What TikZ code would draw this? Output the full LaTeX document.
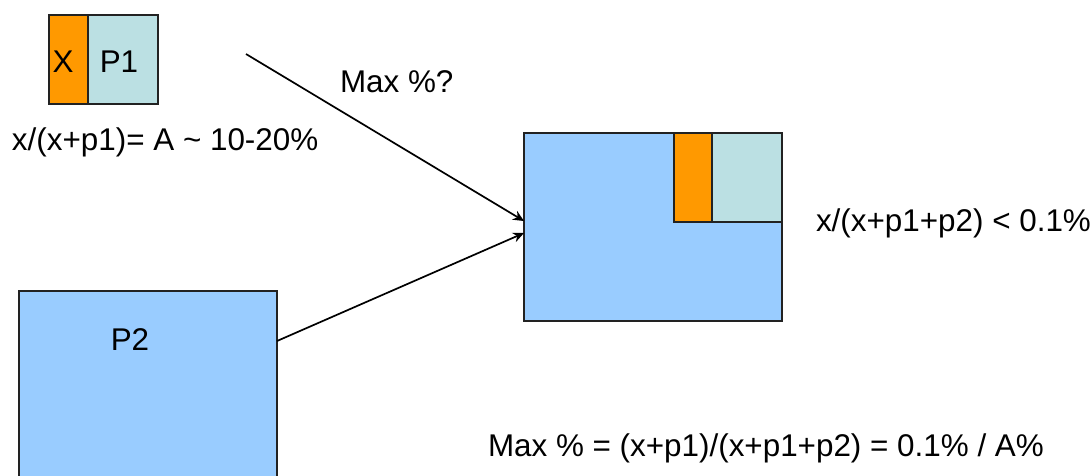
\documentclass[tikz,border=0pt]{standalone}
\usepackage{fontspec}
\setmainfont{Liberation Sans}
\usetikzlibrary{arrows.meta,calc}
\definecolor{orng}{HTML}{FF9900}
\definecolor{tealc}{HTML}{BBE0E3}
\definecolor{bluec}{HTML}{99CCFF}
\definecolor{edgec}{HTML}{222222}
\tikzset{
  blk/.style={draw=edgec,line width=1.7pt,inner sep=0pt,outer sep=0pt},
  xbox/.style={blk,fill=orng},
  pbox/.style={blk,fill=tealc},
  bbox/.style={blk,fill=bluec},
  txt/.style={inner sep=0pt,outer sep=0pt,font=\fontsize{31.4}{36}\selectfont},
  conn/.style={line width=1.7pt,-{Stealth[length=11pt,width=10pt]}}
}
\begin{document}
\begin{tikzpicture}[x=1pt,y=-1pt]
\useasboundingbox (0,0) rectangle (1091,475);
\clip (0,0) rectangle (1091,475);
% top-left pair
\node[xbox,minimum width=39pt,minimum height=89pt] (x1) at (68.5,59.5) {};
\node[pbox,minimum width=70pt,minimum height=89pt] (p1) at (123,59.5) {};
\node[txt] (x1l) at (63,62) {X};
\node[txt] (p1l) at (119,62) {P1};
\node[txt,anchor=base west] (ta) at (12,150) {x/(x+p1)= A \char`~{} 10-20\%};
% big box
\node[bbox,minimum width=258pt,minimum height=188pt] (big) at (653,227) {};
\node[xbox,minimum width=38pt,minimum height=89pt] (x2) at (693,177.5) {};
\node[pbox,minimum width=70pt,minimum height=89pt] (p1b) at (747,177.5) {};
\node[txt,anchor=base west] (tb) at (816,231) {x/(x+p1+p2) < 0.1\%};
% P2
\node[bbox,minimum width=258pt,minimum height=220pt] (p2) at (148,401) {};
\node[txt] (p2l) at (130,340) {P2};
% labels
\node[txt,anchor=base west] (mx) at (340,92) {Max \%?};
\node[txt,anchor=base west] (tc) at (488,456) {Max \% = (x+p1)/(x+p1+p2) = 0.1\% / A\%};
% connectors
\coordinate (s1) at (246,54);
\coordinate (e1) at ($(big.west)+(0,-6)$);
\coordinate (e2) at ($(big.west)+(0,6)$);
\coordinate (s2) at ($(p2.north east)+(0,50)$);
\draw[conn] (s1) -- (e1);
\draw[conn] (s2) -- (e2);
\end{tikzpicture}
\end{document}
